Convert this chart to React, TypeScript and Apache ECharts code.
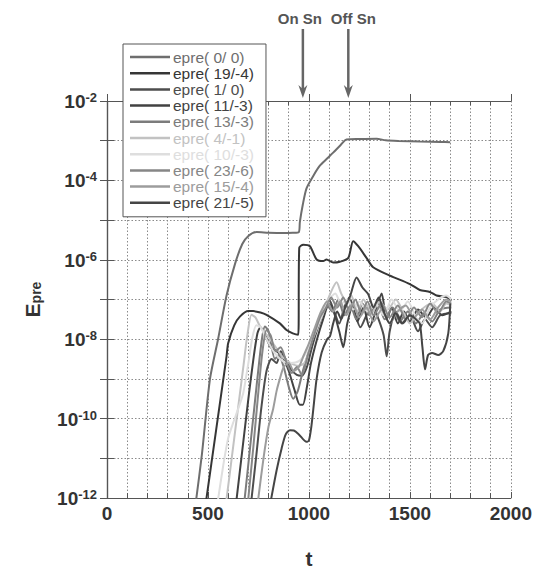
import { useEffect, useRef } from "react";
import * as echarts from "echarts";

const FONT = "'Liberation Sans', Arial, Helvetica, sans-serif";

const T_MIN = 0;
const T_MAX = 2000;
const T_MAJOR = 500;
const E_MIN = 1e-12;
const E_MAX = 1e-2;
const ON_SN_T = 970;
const OFF_SN_T = 1195;
const ANNOTATIONS = ["On Sn", "Off Sn"];

const seriesNames = [
  "epre( 0/ 0)",
  "epre( 19/-4)",
  "epre( 1/ 0)",
  "epre( 11/-3)",
  "epre( 13/-3)",
  "epre( 4/-1)",
  "epre( 10/-3)",
  "epre( 23/-6)",
  "epre( 15/-4)",
  "epre( 21/-5)",
];

const seriesColors = [
  "#6e6e6e",
  "#363636",
  "#4d4d4d",
  "#424242",
  "#7c7c7c",
  "#c2c2c2",
  "#dedede",
  "#868686",
  "#9c9c9c",
  "#454545",
];

const epre_0_0 = [
  [440, 7.9e-13], [470, 1.26e-11], [510, 1e-9], [550, 1e-8], [592, 1.26e-7],
  [634, 7.9e-7], [670, 2.5e-6], [700, 4.0e-6], [741, 5.0e-6], [800, 4.8e-6],
  [873, 4.7e-6], [920, 4.8e-6], [950, 5.0e-6], [955, 8.9e-6], [970, 2.5e-5],
  [988, 6.3e-5], [1020, 1.26e-4], [1054, 2.34e-4], [1090, 3.55e-4], [1120, 5.0e-4],
  [1155, 7.6e-4], [1186, 1.07e-3], [1250, 1.1e-3], [1335, 1.12e-3], [1380, 1.02e-3],
  [1442, 9.8e-4], [1550, 9.5e-4], [1650, 9.3e-4], [1700, 9.1e-4],
];

const epre_19_m4 = [
  [490, 7.9e-13], [540, 5.0e-11], [592, 3.7e-9], [600, 7.9e-9], [630, 2.24e-8],
  [658, 3.7e-8], [700, 5.1e-8], [724, 5.1e-8], [760, 4.7e-8], [790, 4.1e-8],
  [856, 2.5e-8], [889, 1.7e-8], [920, 1.4e-8], [947, 1.29e-8], [952, 2.0e-6],
  [972, 2.4e-6], [1005, 2.2e-6], [1038, 1.02e-6], [1071, 9.3e-7], [1087, 1.02e-6],
  [1120, 8.5e-7], [1153, 8.9e-7], [1195, 1.12e-6], [1219, 2.95e-6], [1244, 2.2e-6],
  [1285, 1.12e-6], [1318, 6.5e-7], [1401, 4.0e-7], [1500, 2.45e-7], [1549, 1.74e-7],
  [1599, 1.55e-7], [1632, 1.26e-7], [1681, 1.15e-7], [1706, 9.5e-8],
];

const epre_1_0 = [
  [714, 7.9e-13], [740, 1.26e-11], [765, 2.0e-10], [790, 1.58e-9], [815, 3.16e-9],
  [840, 2.5e-9], [860, 5.0e-9], [881, 3.4e-9], [910, 1.78e-9], [940, 1.26e-9],
  [965, 1.2e-9], [990, 2.0e-9], [1015, 6.3e-9], [1045, 2.0e-8], [1075, 5.0e-8],
  [1100, 1.0e-7], [1125, 5.0e-8], [1150, 2.5e-8], [1175, 6.3e-8], [1200, 1.12e-7],
  [1225, 5.0e-8], [1255, 2.0e-8], [1285, 4.0e-8], [1315, 7.1e-8], [1345, 3.16e-8],
  [1370, 1.26e-8], [1385, 3.7e-9], [1400, 1.58e-8], [1430, 5.0e-8], [1465, 2.5e-8],
  [1500, 4.0e-8], [1540, 1.58e-8], [1575, 3.16e-8], [1610, 2.0e-8], [1650, 4.0e-8],
  [1705, 4.5e-8],
];

const epre_11_m3 = [
  [640, 7.9e-13], [670, 1.58e-11], [700, 3.16e-10], [725, 3.16e-9], [745, 1.41e-8],
  [760, 2.0e-8], [780, 1.41e-8], [810, 6.3e-9], [840, 5.0e-9], [870, 3.55e-9],
  [900, 1.58e-9], [930, 5.0e-10], [955, 2.24e-10], [970, 2.24e-10], [990, 6.3e-10],
  [1010, 2.5e-9], [1040, 1.0e-8], [1070, 3.16e-8], [1100, 7.9e-8], [1125, 4.5e-8],
  [1150, 1.58e-8], [1170, 6.3e-9], [1190, 2.5e-8], [1215, 6.3e-8], [1240, 2.8e-8],
  [1270, 6.3e-8], [1300, 2.0e-8], [1330, 5.0e-8], [1360, 1.41e-7], [1385, 3.16e-8],
  [1410, 6.3e-8], [1440, 2.5e-8], [1470, 5.0e-8], [1500, 2.8e-8], [1540, 5.6e-8],
  [1580, 3.55e-8], [1620, 6.3e-8], [1660, 4.0e-8], [1705, 5.0e-8],
];

const epre_13_m3 = [
  [680, 7.9e-13], [705, 1.26e-11], [730, 2.0e-10], [755, 3.16e-9], [770, 1.26e-8],
  [782, 2.1e-8], [800, 1.58e-8], [832, 3.16e-9], [850, 4.0e-9], [875, 2.0e-9],
  [900, 6.3e-10], [922, 3.16e-10], [945, 5.0e-10], [970, 1.58e-9], [1000, 5.0e-9],
  [1030, 1.58e-8], [1060, 4.0e-8], [1090, 7.1e-8], [1115, 5.0e-8], [1145, 1.0e-7],
  [1175, 4.0e-8], [1205, 7.1e-8], [1235, 3.16e-8], [1265, 7.9e-8], [1300, 4.0e-8],
  [1340, 8.9e-8], [1375, 3.16e-8], [1415, 6.3e-8], [1450, 2.8e-8], [1490, 5.0e-8],
  [1530, 2.5e-8], [1570, 4.5e-8], [1610, 2.8e-8], [1650, 5.6e-8], [1705, 6.3e-8],
];

const epre_4_m1 = [
  [590, 7.9e-13], [620, 1.26e-11], [650, 2.0e-10], [675, 2.0e-9], [695, 1.26e-8],
  [716, 4.1e-8], [735, 3.55e-8], [760, 2.0e-8], [798, 1.17e-8], [835, 6.3e-9],
  [873, 3.4e-9], [910, 2.5e-9], [947, 2.14e-9], [980, 2.57e-9], [1005, 6.3e-9],
  [1030, 1.7e-8], [1055, 3.55e-8], [1079, 6.5e-8], [1110, 1.58e-7], [1137, 2.7e-7],
  [1160, 1.41e-7], [1190, 7.9e-8], [1210, 1.26e-7], [1240, 5.0e-8], [1270, 1.0e-7],
  [1310, 4.5e-8], [1350, 8.9e-8], [1390, 5.6e-8], [1430, 1.0e-7], [1470, 4.5e-8],
  [1500, 2.5e-8], [1530, 4.0e-8], [1570, 6.3e-8], [1610, 7.9e-8], [1650, 5.0e-8],
  [1680, 7.9e-8], [1705, 7.1e-8],
];

const epre_10_m3 = [
  [548, 7.9e-13], [575, 6.3e-12], [600, 3.2e-11], [625, 7.9e-11], [650, 1.78e-10],
  [675, 4.5e-10], [700, 2.5e-9], [720, 1.12e-8], [740, 2.24e-8], [760, 2.0e-8],
  [790, 1.0e-8], [830, 4.5e-9], [870, 2.8e-9], [910, 2.5e-9], [950, 2.8e-9],
  [990, 5.0e-9], [1030, 1.41e-8], [1070, 4.5e-8], [1100, 1.0e-7], [1130, 1.41e-7],
  [1160, 7.9e-8], [1190, 1.0e-7], [1220, 5.6e-8], [1250, 8.9e-8], [1290, 5.0e-8],
  [1330, 7.9e-8], [1370, 4.0e-8], [1410, 1.0e-7], [1450, 5.0e-8], [1490, 8.9e-8],
  [1530, 3.55e-8], [1560, 2.5e-8], [1600, 6.3e-8], [1640, 1.0e-7], [1680, 1.26e-7],
  [1705, 1.0e-7],
];

const epre_23_m6 = [
  [698, 7.9e-13], [725, 2.0e-11], [750, 5.0e-10], [770, 5.0e-9], [790, 1.7e-8],
  [810, 1.26e-8], [835, 5.0e-9], [860, 6.3e-9], [890, 2.5e-9], [915, 1.41e-9],
  [940, 2.0e-9], [965, 1.26e-9], [995, 4.0e-9], [1025, 1.26e-8], [1055, 3.55e-8],
  [1085, 6.3e-8], [1110, 1.12e-7], [1140, 6.3e-8], [1170, 1.12e-7], [1200, 5.0e-8],
  [1230, 1.0e-7], [1260, 4.5e-8], [1290, 8.9e-8], [1320, 4.0e-8], [1360, 7.9e-8],
  [1400, 3.55e-8], [1440, 7.1e-8], [1480, 3.16e-8], [1520, 6.3e-8], [1560, 3.55e-8],
  [1600, 7.9e-8], [1640, 4.5e-8], [1680, 8.9e-8], [1705, 7.9e-8],
];

const epre_15_m4 = [
  [747, 7.9e-13], [775, 1.0e-11], [800, 6.3e-11], [823, 1.78e-10], [840, 5.0e-10],
  [856, 1.0e-9], [875, 2.0e-9], [900, 2.5e-9], [925, 1.58e-9], [950, 2.0e-9],
  [975, 4.0e-9], [1000, 7.9e-9], [1030, 2.0e-8], [1060, 5.0e-8], [1090, 8.9e-8],
  [1120, 5.0e-8], [1155, 8.9e-8], [1185, 4.0e-8], [1215, 7.9e-8], [1250, 3.55e-8],
  [1285, 6.3e-8], [1320, 2.8e-8], [1360, 5.6e-8], [1400, 2.5e-8], [1440, 5.0e-8],
  [1480, 7.1e-8], [1520, 3.55e-8], [1560, 5.6e-8], [1600, 3.16e-8], [1640, 6.3e-8],
  [1680, 1.0e-7], [1705, 8.9e-8],
];

const epre_21_m5 = [
  [810, 7.9e-13], [840, 5.0e-12], [865, 1.8e-11], [885, 4.0e-11], [906, 5.1e-11],
  [925, 5.0e-11], [950, 4.0e-11], [988, 2.6e-11], [1000, 2.8e-11], [1012, 6.3e-11],
  [1025, 2.5e-10], [1038, 1.0e-9], [1063, 4.6e-9], [1090, 1.0e-8], [1104, 1.17e-8],
  [1120, 2.5e-8], [1140, 5.0e-8], [1160, 3.16e-8], [1180, 6.3e-8], [1205, 1.26e-7],
  [1236, 3.6e-7], [1265, 2.0e-7], [1293, 1.38e-7], [1320, 6.3e-8], [1345, 1.12e-7],
  [1370, 5.0e-8], [1400, 2.5e-8], [1430, 4.5e-8], [1460, 2.5e-8], [1500, 4.0e-8],
  [1530, 3.16e-8], [1549, 2.5e-8], [1562, 6.3e-9], [1575, 1.74e-9], [1590, 4.0e-9],
  [1610, 4.5e-9], [1640, 4.0e-9], [1665, 5.0e-9], [1690, 1.41e-8], [1700, 7.9e-8],
];

const seriesData = [
  epre_0_0,
  epre_19_m4,
  epre_1_0,
  epre_11_m3,
  epre_13_m3,
  epre_4_m1,
  epre_10_m3,
  epre_23_m6,
  epre_15_m4,
  epre_21_m5,
];

const AXIS_COLOR = "#555";
const GRID_STYLE = { color: "#8a8a8a", width: 1, type: [1.5, 2] as number[] };

function App() {
  const ref = useRef<HTMLDivElement | null>(null);

  useEffect(() => {
    if (!ref.current) return;
    const chart = echarts.init(ref.current, undefined, { renderer: "svg" });

    const yLabelFormatter = (v: number) => {
      const e = Math.round(Math.log10(v));
      if (e % 2 !== 0) return "";
      return `{b|10}{s|${e}}`;
    };

    const option: any = {
      animation: false,
      backgroundColor: "#fff",
      grid: { left: 107, right: 24, top: 101, bottom: 70, containLabel: false },
      legend: {
        orient: "vertical",
        left: 123,
        top: 44,
        padding: [5, 12, 6, 7],
        icon: "rect",
        itemWidth: 40,
        itemHeight: 2.5,
        itemGap: 0.2,
        backgroundColor: "#fff",
        borderColor: "#555",
        borderWidth: 1,
        borderRadius: 0,
        z: 10,
        textStyle: { fontFamily: FONT, fontSize: 15.5, padding: [0, 0, 0, -2] },
        data: seriesNames.map((n, i) => ({
          name: n,
          itemStyle: { color: seriesColors[i] },
          textStyle: { color: seriesColors[i] },
        })),
      },
      xAxis: [
        {
          type: "value",
          min: T_MIN,
          max: T_MAX,
          interval: T_MAJOR,
          name: "t",
          nameLocation: "middle",
          nameGap: 50,
          nameTextStyle: { fontFamily: FONT, fontSize: 21, fontWeight: "bold", color: "#333" },
          axisLine: { show: true, lineStyle: { color: AXIS_COLOR, width: 1.2 } },
          axisTick: { show: true, inside: true, length: 6, lineStyle: { color: AXIS_COLOR } },
          minorTick: { show: true, splitNumber: 5, length: 5, lineStyle: { color: AXIS_COLOR } },
          axisLabel: {
            formatter: (v: number) => String(v),
            fontFamily: FONT,
            fontSize: 19,
            fontWeight: "bold",
            color: "#333",
            margin: 6,
          },
          splitLine: { show: true, lineStyle: GRID_STYLE },
          minorSplitLine: { show: true, lineStyle: GRID_STYLE },
        },
        {
          type: "value",
          position: "top",
          min: T_MIN,
          max: T_MAX,
          interval: T_MAJOR,
          axisLine: { show: true, lineStyle: { color: AXIS_COLOR, width: 1.2 } },
          axisTick: { show: true, inside: false, length: 7, lineStyle: { color: AXIS_COLOR } },
          minorTick: { show: true, splitNumber: 5, length: -4, lineStyle: { color: AXIS_COLOR } },
          axisLabel: { show: false },
          splitLine: { show: false },
        },
      ],
      yAxis: [
        {
          type: "log",
          logBase: 10,
          min: E_MIN,
          max: E_MAX,
          splitNumber: 10,
          name: "E{p|pre}",
          nameLocation: "middle",
          nameRotate: 90,
          nameGap: 86,
          nameTextStyle: {
            fontFamily: FONT,
            fontSize: 21,
            fontWeight: "bold",
            color: "#333",
            lineHeight: 22,
            verticalAlign: "top",
            rich: {
              p: {
                fontFamily: FONT,
                fontSize: 14,
                fontWeight: "bold",
                color: "#333",
                lineHeight: 14,
                verticalAlign: "bottom",
                padding: [15, 0, 0, 0],
              },
            },
          },
          axisLine: { show: true, lineStyle: { color: AXIS_COLOR, width: 1.2 } },
          axisTick: { show: true, inside: true, length: 7, lineStyle: { color: AXIS_COLOR } },
          axisLabel: {
            formatter: yLabelFormatter,
            margin: 10,
            rich: {
              b: {
                fontFamily: FONT,
                fontSize: 19,
                fontWeight: "bold",
                color: "#333",
                lineHeight: 20,
                verticalAlign: "bottom",
                padding: [2, 0, 0, 0],
              },
              s: {
                fontFamily: FONT,
                fontSize: 13,
                fontWeight: "bold",
                color: "#333",
                lineHeight: 14,
                verticalAlign: "top",
              },
            },
          },
          splitLine: { show: true, lineStyle: GRID_STYLE },
        },
        {
          type: "log",
          logBase: 10,
          min: E_MIN,
          max: E_MAX,
          splitNumber: 10,
          position: "right",
          axisLine: { show: true, lineStyle: { color: AXIS_COLOR, width: 1.2 } },
          axisTick: { show: true, inside: true, length: 7, lineStyle: { color: AXIS_COLOR } },
          axisLabel: { show: false },
          splitLine: { show: false },
        },
      ],
      series: seriesData.map((d, i) => ({
        name: seriesNames[i],
        type: "line",
        xAxisIndex: 0,
        yAxisIndex: 0,
        data: d,
        symbol: "none",
        smooth: 0.25,
        clip: true,
        color: seriesColors[i],
        lineStyle: { color: seriesColors[i], width: 2 },
        z: 3,
      })),
    };

    chart.setOption(option);

    const arrowTop = 29;
    const arrowBottom = 98;
    const makeArrow = (t: number, label: string, textShift: number) => {
      const x = chart.convertToPixel({ xAxisIndex: 0 }, t) as number;
      return [
        {
          type: "text",
          x: x + textShift,
          y: 18,
          z: 20,
          style: {
            text: label,
            fill: "#555",
            font: `bold 15px ${FONT}`,
            align: "center",
            verticalAlign: "middle",
          },
        },
        {
          type: "line",
          z: 20,
          shape: { x1: x, y1: arrowTop, x2: x, y2: arrowBottom - 8 },
          style: { stroke: "#666", lineWidth: 2.5 },
        },
        {
          type: "polygon",
          z: 20,
          shape: {
            points: [
              [x - 4.5, arrowBottom - 13],
              [x, arrowBottom - 9],
              [x + 4.5, arrowBottom - 13],
              [x, arrowBottom],
            ],
          },
          style: { fill: "#666" },
        },
      ];
    };

    chart.setOption({
      graphic: [
        ...makeArrow(ON_SN_T, ANNOTATIONS[0], -3),
        ...makeArrow(OFF_SN_T, ANNOTATIONS[1], 5),
      ],
    });

    return () => {
      chart.dispose();
    };
  }, []);

  return (
    <div
      ref={ref}
      style={{ position: "absolute", left: 0, top: 0, width: 535, height: 574 }}
    />
  );
}

export default App;
